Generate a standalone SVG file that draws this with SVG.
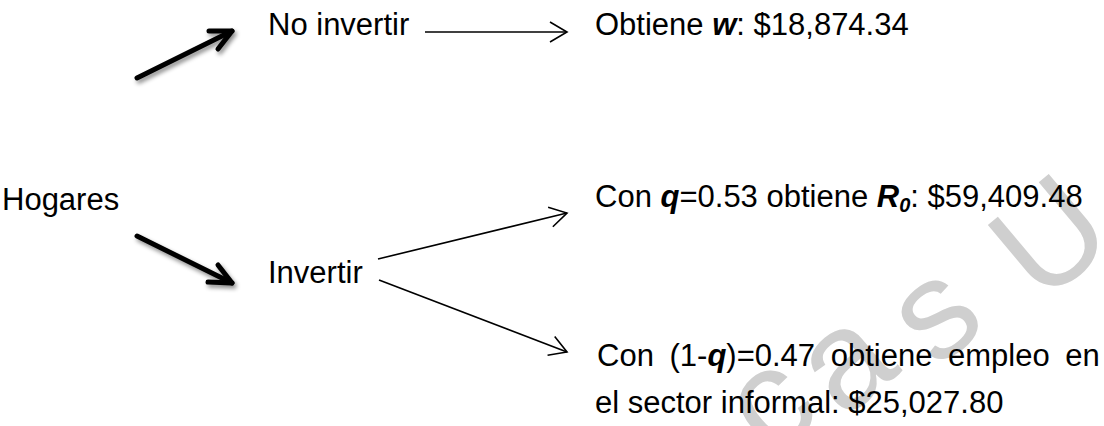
<svg xmlns="http://www.w3.org/2000/svg" width="1104" height="426" viewBox="0 0 1104 426">
<style>
.t{font-family:"Liberation Sans",Arial,sans-serif;font-size:31px;fill:#000}
.bi{font-weight:bold;font-style:italic}
.wm{font-family:"Liberation Sans",Arial,sans-serif;font-size:140px;fill:#cfcfcf;text-anchor:middle}
.thin{fill:none;stroke:#000;stroke-width:1.6}
.thick{fill:none;stroke:#000;stroke-width:5;stroke-linecap:round;stroke-linejoin:round}
</style>
<defs>
<marker id="chev" markerUnits="userSpaceOnUse" markerWidth="40" markerHeight="40" viewBox="-20 -20 40 40" refX="0" refY="0" orient="auto">
<path d="M-17,-10 L0,0 L-17,10" fill="none" stroke="#000" stroke-width="1.6"/>
</marker>
<filter id="sh" x="-20%" y="-20%" width="140%" height="160%">
<feDropShadow dx="2" dy="3" stdDeviation="2" flood-color="#000" flood-opacity="0.45"/>
</filter>
</defs>
<g id="watermark">
<text class="wm" transform="translate(775,410) rotate(-40)" dy="36">c</text>
<text class="wm" transform="translate(850,368) rotate(-40)" dy="36">a</text>
<text class="wm" transform="translate(940,320) rotate(-40)" dy="36">s</text>
<text class="wm" transform="translate(1048,235) rotate(-40)" dy="50">U</text>
</g>
<g id="connectors">
<g filter="url(#sh)">
<path class="thick" d="M137,78 L232,31"/>
<path class="thick" d="M209,31 L232,31 L218,49"/>
<path class="thick" d="M137,236 L232,283"/>
<path class="thick" d="M218,265 L232,283 L208,282"/>
</g>
<line class="thin" x1="425" y1="32" x2="567" y2="32" marker-end="url(#chev)"/>
<line class="thin" x1="378" y1="259" x2="567" y2="213" marker-end="url(#chev)"/>
<line class="thin" x1="379" y1="280" x2="567" y2="352" marker-end="url(#chev)"/>
</g>
<g id="node-hogares"><text class="t" x="2" y="210">Hogares</text></g>
<g id="node-no-invertir"><text class="t" x="268" y="35">No invertir</text></g>
<g id="node-invertir"><text class="t" x="268" y="283">Invertir</text></g>
<g id="node-obtiene-w"><text class="t" x="595" y="35">Obtiene <tspan class="bi">w</tspan>: $18,874.34</text></g>
<g id="node-con-q"><text class="t" x="595" y="207">Con <tspan class="bi">q</tspan>=0.53 obtiene <tspan class="bi">R</tspan><tspan class="bi" font-size="20" dy="5">0</tspan><tspan dy="-5">: $59,409.48</tspan></text></g>
<g id="node-con-1-q">
<text class="t" x="597" y="366" word-spacing="7">Con (1-<tspan class="bi">q</tspan>)=0.47 obtiene empleo en</text>
<text class="t" x="595" y="413">el sector informal: $25,027.80</text>
</g>
</svg>
